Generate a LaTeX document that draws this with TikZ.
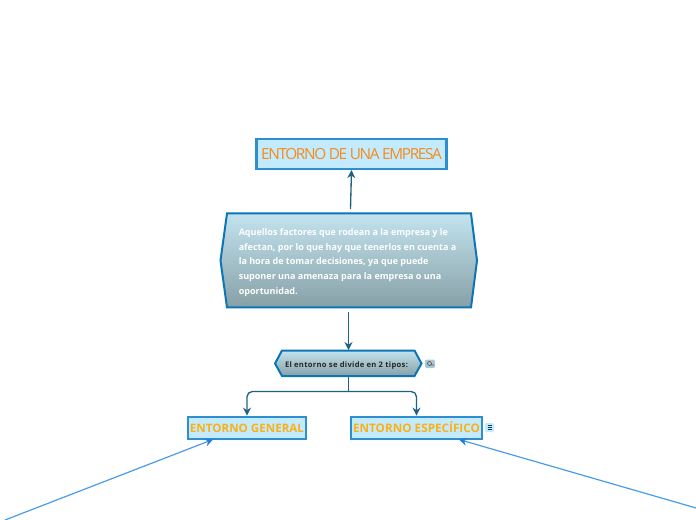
\documentclass[tikz,border=0pt]{standalone}
\usepackage{fontspec}
\setmainfont{Open Sans}[BoldFont={Open Sans Bold}]
\usetikzlibrary{arrows.meta}
\definecolor{boxfill}{HTML}{C4EAFD}
\definecolor{boxline}{HTML}{2E8FD0}
\definecolor{hexline}{HTML}{0B75B5}
\definecolor{conn}{HTML}{1F6288}
\definecolor{bluearrow}{HTML}{4A9BEA}
\definecolor{arrowtip}{HTML}{1F7FE0}
\definecolor{gradtop}{HTML}{C2E3EF}
\definecolor{gradbot}{HTML}{87A0A6}
\definecolor{titletext}{HTML}{F28C1E}
\definecolor{subtext}{HTML}{FBB116}
\tikzset{
  topicbox/.style={draw=boxline,line width=1.6pt,fill=boxfill,inner sep=0pt},
  hexshape/.style={draw=hexline,line width=1.5pt,top color=gradtop,bottom color=gradbot,line join=miter},
  link/.style={draw=conn,line width=1pt,-{Stealth[length=6pt,width=6pt]}},
  farlink/.style={draw=bluearrow,line width=.9pt,-{Stealth[length=6pt,width=6pt,color=arrowtip]}},
  iconbg/.style={rounded corners=1pt,draw=none},
}
\begin{document}
\begin{tikzpicture}[x=0.75pt,y=-0.75pt]
\useasboundingbox (0,0) rectangle (696,520);
% boxes
\node[topicbox,minimum width=142.5pt,minimum height=22.5pt,text height=8.2pt,text depth=0pt,text=titletext,font=\fontsize{11.5pt}{12pt}\selectfont\addfontfeature{LetterSpace=-8.8}] (title) at (351.5,154) {ENTORNO DE UNA EMPRESA};
\node[topicbox,minimum width=88pt,minimum height=17pt,text height=6.2pt,text depth=0pt,text=subtext,font=\fontsize{8.7pt}{10pt}\selectfont\bfseries] (gen) at (247,428) {ENTORNO GENERAL};
\node[topicbox,minimum width=98pt,minimum height=17pt,text height=6.2pt,text depth=0pt,text=subtext,font=\fontsize{8.8pt}{10pt}\selectfont\bfseries] (esp) at (416.5,428) {ENTORNO ESPECÍFICO};
% hexagons
\path[hexshape] (227,213.5) -- (471,213.5) -- (477,260.5) -- (471,307.5) -- (227,307.5) -- (220.5,260.5) -- cycle;
\coordinate (bigtop) at (350.5,209);
\coordinate (bigbot) at (348.5,312);
\node[inner sep=0pt,anchor=west,text=white,align=left,font=\fontsize{6.77pt}{10.95pt}\selectfont\bfseries] (big) at (238.5,262.5) {Aquellos factores que rodean a la empresa y le\\afectan, por lo que hay que tenerlos en cuenta a\\la hora de tomar decisiones, ya que puede\\suponer una amenaza para la empresa o una\\oportunidad.};
\path[hexshape] (282,350.5) -- (414.5,350.5) -- (421.5,363.5) -- (414.5,376) -- (282,376) -- (275,363.5) -- cycle;
\node[inner sep=0pt,text=black!85,font=\fontsize{5.7pt}{6pt}\selectfont\bfseries\addfontfeature{LetterSpace=4}] (small) at (346.5,365.5) {El entorno se divide en 2 tipos:};
\coordinate (smalltop) at (348.5,350);
\coordinate (smallbot) at (348.5,377);
\coordinate (fork) at (348.5,391.5);
% connectors
\draw[link] (bigtop) -- (title.south);
\draw[link] (bigbot) -- (smalltop);
\draw[conn,line width=1pt] (smallbot) -- (fork);
\draw[link,rounded corners=4pt] (fork) -| (gen.north);
\draw[link,rounded corners=4pt] (fork) -| (esp.north);
\coordinate (farL) at (5,520);
\coordinate (farR) at (696,508);
\coordinate (genin) at (213,439.5);
\coordinate (espin) at (459,439.5);
\draw[farlink] (farL) -- (genin);
\draw[farlink] (farR) -- (espin);
% icons
\fill[iconbg,fill=gradtop!60!gradbot] (425,359.5) rectangle (435,368);
\draw[black!65,line width=.5pt] (429.5,363.5) circle (2) (431,365) -- (434,365);
\fill[iconbg,fill=boxfill] (485,423) rectangle (494,432);
\draw[conn!60!black,line width=.7pt] (487.5,425.5) -- (491.5,425.5) (487.5,427.5) -- (491.5,427.5) (487.5,429.5) -- (491.5,429.5);
\end{tikzpicture}
\end{document}
